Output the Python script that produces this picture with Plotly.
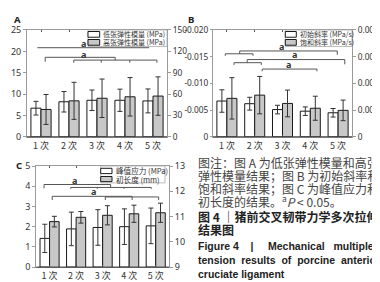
import plotly.graph_objects as go

W, H = 380, 282

# ---------------- data ----------------
categories = ["1 次", "2 次", "3 次", "4 次", "5 次"]
x_pos = [1, 2, 3, 4, 5]

# Panel A: low / high tension elastic modulus (MPa)
a_low_name = "低张弹性模量 (MPa)"
a_high_name = "高张弹性模量 (MPa)"
a_low = [6.7, 8.2, 8.55, 8.55, 8.4]
a_low_err = [1.6, 2.4, 2.4, 2.6, 2.8]
a_high = [38.4, 50.5, 54.1, 56.2, 57.2]
a_high_err = [21, 26, 27, 27, 27]

# Panel B: initial / saturation slope (MPa/s)
b_init_name = "初始斜率 (MPa/s)"
b_sat_name = "饱和斜率 (MPa/s)"
b_init = [0.0067, 0.0062, 0.0051, 0.0048, 0.0045]
b_init_err = [0.0021, 0.0012, 0.0008, 0.0008, 0.0008]
b_sat = [0.00288, 0.00312, 0.0025, 0.00214, 0.00198]
b_sat_err = [0.00155, 0.0014, 0.001, 0.0009, 0.00077]

# Panel C: peak stress (MPa) / initial length (mm)
c_peak_name = "峰值应力 (MPa)"
c_len_name = "初长度 (mm)"
c_peak = [1.42, 1.89, 1.96, 2.0, 2.04]
c_peak_err = [0.7, 0.83, 0.88, 0.88, 0.88]
c_len = [10.8, 10.97, 11.05, 11.11, 11.15]
c_len_err = [0.21, 0.23, 0.38, 0.34, 0.38]

# tick labels
a_left_ticks = [0, 5, 10, 15, 20, 25]
a_right_ticks = [0, 30, 60, 90, 120, 150]
b_left_ticks = [0, 0.005, 0.010, 0.015, 0.020]
b_left_text = ["0", "-0.005", "-0.010", "-0.015", "-0.020"]
b_right_ticks = [0, 0.002, 0.004, 0.006, 0.008]
b_right_text = ["0", "0.002", "0.004", "0.006", "0.008"]
c_left_ticks = [0, 1, 2, 3, 4, 5]
c_right_ticks = [9, 10, 11, 12, 13]

# significance brackets (polylines in data units of the left axis) and "a" marks
a_brackets = [
    [(0.87, 20.85), (4.86, 20.85)],
    [(1.15, 17.57), (1.15, 18.6), (3.65, 18.6), (3.65, 17.95)],
    [(2.17, 17.34), (2.17, 17.95), (5.14, 17.95), (5.14, 17.34)],
    [(3.15, 17.95), (3.15, 17.34)],
    [(4.17, 17.95), (4.17, 17.34)],
]
a_marks = [(2.5, 21.75), (2.5, 19.3)]
b_brackets = [
    [(0.94, 0.01518), (0.94, 0.01554), (1.94, 0.01554), (1.94, 0.01518)],
    [(1.46, 0.01554), (1.46, 0.01607), (4.97, 0.01607), (4.97, 0.01536)],
    [(1.255, 0.01346), (1.255, 0.013875), (2.24, 0.013875), (2.24, 0.01346)],
    [(1.73, 0.013875), (1.73, 0.01446), (5.24, 0.01446), (5.24, 0.01357)],
    [(2.27, 0.01227), (2.27, 0.01268), (4.24, 0.01268), (4.24, 0.01227)],
]
b_marks = [(2.96, 0.0169), (3.44, 0.0154), (3.22, 0.0136)]
c_brackets = [
    [(0.79, 3.90), (0.79, 4.085), (3.30, 4.085), (3.30, 3.94)],
    [(1.80, 3.87), (1.80, 3.94), (4.83, 3.94), (4.83, 3.87)],
    [(2.80, 3.94), (2.80, 3.87)],
    [(3.80, 3.94), (3.80, 3.87)],
    [(1.10, 3.32), (1.10, 3.50), (4.11, 3.50), (4.11, 3.32)],
    [(3.10, 3.32), (3.10, 3.47), (5.11, 3.47), (5.11, 3.32)],
]
c_marks = [(1.95, 4.30), (2.67, 3.73)]

NB = "\u00a0"
caption_lines = [
    ("图注：图 A 为低张弹性模量和高张", "n"),
    ("弹性模量结果；图 B 为初始斜率和", "n"),
    ("饱和斜率结果；图 C 为峰值应力和", "n"),
    ("初长度的结果。<sup>a</sup><i>P</i> &lt; 0.05。", "n"),
    ("图 4 ｜猪前交叉韧带力学多次拉伸", "t"),
    ("结果图", "t"),
    (f"Figure{NB}4{NB*4}|{NB*5}Mechanical{NB*3}multiple", "e"),
    (f"tension{NB*2}results{NB*2}of{NB*2}porcine{NB*2}anterior", "e"),
    ("cruciate ligament", "e"),
]

# ---------------- style ----------------
FONT = "Noto Sans, Noto Sans CJK SC, sans-serif"
CJK = "Noto Sans CJK SC, Noto Sans, sans-serif"
WHITE = "#ffffff"
GRAY = "#c8c8c8"
EDGE = "#1a1a1a"
AXIS = "#9a9a9a"
BW = 0.36


def px(x):
    return x / W


def py(y):
    return 1 - y / H


fig = go.Figure()


def add_pair(xa, ya_left, ya_right, v1, e1, n1, v2, e2, n2):
    fig.add_trace(go.Bar(
        x=x_pos, y=v1, name=n1, xaxis=xa, yaxis=ya_left,
        width=BW, offset=-BW,
        marker=dict(color=WHITE, line=dict(color=EDGE, width=1)),
        error_y=dict(type="data", array=e1, color="#333", thickness=1, width=2.5),
        showlegend=False,
    ))
    fig.add_trace(go.Bar(
        x=x_pos, y=v2, name=n2, xaxis=xa, yaxis=ya_right,
        width=BW, offset=0,
        marker=dict(color=GRAY, line=dict(color=EDGE, width=1)),
        error_y=dict(type="data", array=e2, color="#333", thickness=1, width=2.5),
        showlegend=False,
    ))


add_pair("x", "y", "y2", a_low, a_low_err, a_low_name, a_high, a_high_err, a_high_name)
add_pair("x2", "y3", "y4", b_init, b_init_err, b_init_name, b_sat, b_sat_err, b_sat_name)
add_pair("x3", "y5", "y6", c_peak, c_peak_err, c_peak_name, c_len, c_len_err, c_len_name)

tickfont = dict(family=FONT, size=9, color="#333")
tickfont_s = dict(family=FONT, size=8.3, color="#333")
xcommon = dict(
    range=[0.5, 5.5], tickvals=x_pos, ticktext=categories,
    tickfont=dict(family=CJK, size=9, color="#333"),
    showline=True, linecolor=AXIS, linewidth=1, mirror="ticks",
    ticks="inside", ticklen=2, tickcolor="#555", showgrid=False, zeroline=False,
    fixedrange=True,
)
ycommon = dict(
    showline=True, linecolor=AXIS, linewidth=1, ticks="outside", ticklen=3,
    tickcolor=AXIS, tickfont=tickfont, showgrid=False, zeroline=False,
    fixedrange=True,
)

dA = dict(x=[px(19), px(159)], y=[py(127.7), py(15.7)])
dB = dict(x=[px(205), px(344)], y=[py(127.7), py(15.7)])
dC = dict(x=[px(28.3), px(161)], y=[py(264.3), py(158.3)])

fig.update_layout(
    width=W, height=H, margin=dict(l=0, r=0, t=0, b=0),
    paper_bgcolor="white", plot_bgcolor="white",
    font=dict(family=FONT, color="#333"),
    barmode="overlay",
    xaxis=dict(xcommon, domain=dA["x"], anchor="y"),
    yaxis=dict(ycommon, domain=dA["y"], anchor="x", range=[0, 25], tickvals=a_left_ticks),
    yaxis2=dict(ycommon, overlaying="y", side="right", anchor="x", range=[0, 150],
                tickvals=a_right_ticks, tickfont=tickfont_s),
    xaxis2=dict(xcommon, domain=dB["x"], anchor="y3"),
    yaxis3=dict(ycommon, domain=dB["y"], anchor="x2", range=[0, 0.020],
                tickvals=b_left_ticks, ticktext=b_left_text, tickfont=tickfont_s,
                ticklen=2),
    yaxis4=dict(ycommon, overlaying="y3", side="right", anchor="x2", range=[0, 0.008],
                tickvals=b_right_ticks, ticktext=b_right_text, tickfont=tickfont_s),
    xaxis3=dict(xcommon, domain=dC["x"], anchor="y5"),
    yaxis5=dict(ycommon, domain=dC["y"], anchor="x3", range=[0, 5], tickvals=c_left_ticks),
    yaxis6=dict(ycommon, overlaying="y5", side="right", anchor="x3", range=[9, 13],
                tickvals=c_right_ticks),
)

shapes = []
annotations = []

# darker bottom axis lines
for xa, ya in (("x", "y"), ("x2", "y3"), ("x3", "y5")):
    shapes.append(dict(type="line", xref=f"{xa} domain", yref=f"{ya} domain",
                       x0=0, x1=1, y0=0, y1=0, line=dict(color="#333", width=1)))


def add_brackets(br, marks, xa, ya):
    for pts in br:
        path = "M " + " L ".join(f"{x},{y}" for x, y in pts)
        shapes.append(dict(type="path", path=path, xref=xa, yref=ya,
                           line=dict(color="#555", width=1)))
    for x, y in marks:
        annotations.append(dict(text="<b>a</b>", x=x, y=y, xref=xa, yref=ya,
                                showarrow=False, xanchor="center", yanchor="middle",
                                font=dict(family=FONT, size=9, color="#333")))


add_brackets(a_brackets, a_marks, "x", "y")
add_brackets(b_brackets, b_marks, "x2", "y3")
add_brackets(c_brackets, c_marks, "x3", "y5")


# manual compact legends (pixel layout)
def add_legend(box, sw_x1, rows, names, fsize):
    x0, y0, x1, y1 = box
    shapes.append(dict(type="rect", xref="paper", yref="paper",
                       x0=px(x0), x1=px(x1), y0=py(y1), y1=py(y0),
                       line=dict(color="#aaa", width=0.8), fillcolor="white"))
    for (ry0, ry1), name, col in zip(rows, names, (WHITE, GRAY)):
        shapes.append(dict(type="rect", xref="paper", yref="paper",
                           x0=px(x0), x1=px(sw_x1), y0=py(ry1), y1=py(ry0),
                           line=dict(color=EDGE, width=1), fillcolor=col))
        annotations.append(dict(text=name, x=px(sw_x1 + 1.5), y=py((ry0 + ry1) / 2),
                                xref="paper", yref="paper", showarrow=False,
                                xanchor="left", yanchor="middle", align="left",
                                font=dict(family=CJK, size=fsize, color="#333")))


add_legend((80, 15.7, 159, 33), 91.7, [(17.3, 23.3), (25.7, 31.7)],
           [a_low_name, a_high_name], 7)
add_legend((277.3, 15.7, 344, 33), 288.3, [(17.3, 23.3), (25.7, 31.7)],
           [b_init_name, b_sat_name], 7)
add_legend((92.7, 158.3, 157, 176), 104, [(160.7, 166.3), (169.3, 174.7)],
           [c_peak_name, c_len_name], 7.6)

# panel letters
for t, x, y in (("A", 9, 5.0), ("B", 182.5, 5.0), ("C", 10.5, 157.5)):
    annotations.append(dict(text=f"<b>{t}</b>", x=px(x), y=py(y), xref="paper",
                            yref="paper", showarrow=False, xanchor="center",
                            yanchor="middle", font=dict(family=FONT, size=9.5, color="#222")))

# caption
cap_y = [155, 168, 181.5, 195.5, 211.5, 225, 242.5, 257, 271.5]
for (txt, kind), yy in zip(caption_lines, cap_y):
    if kind == "n":
        font = dict(family=CJK, size=12, color="#444")
        text = txt
    elif kind == "t":
        font = dict(family=CJK, size=12, color="#222")
        text = f"<b>{txt}</b>"
    else:
        font = dict(family="Liberation Sans, Arial, sans-serif", size=10.5, color="#222")
        text = f"<b>{txt}</b>"
    annotations.append(dict(text=text, x=px(189), y=py(yy), xref="paper", yref="paper",
                            showarrow=False, xanchor="left", yanchor="middle",
                            align="left", borderpad=0, font=font))

fig.update_layout(shapes=shapes, annotations=annotations)
fig.write_html("out.html")
